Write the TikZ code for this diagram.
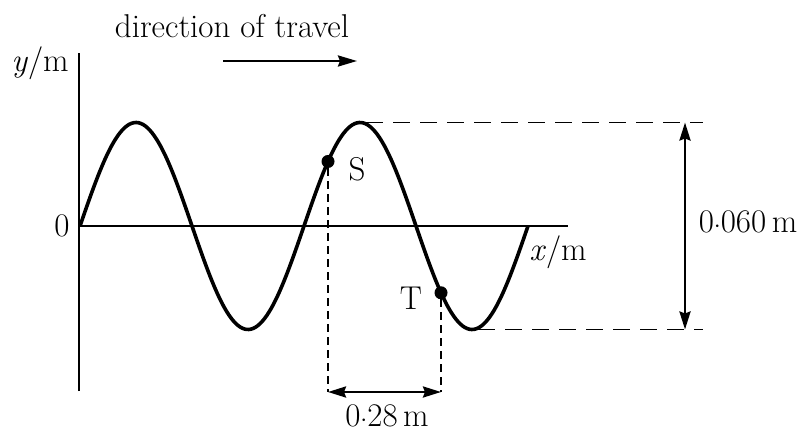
\documentclass[tikz,border=0pt]{standalone}
\usetikzlibrary{arrows.meta}
\tikzset{
  dot/.style={circle, fill=black, inner sep=0pt, minimum size=13pt},
  guide/.style={line width=1.6pt, dash pattern=on 8pt off 5pt},
  level/.style={line width=1.6pt, dash pattern=on 17pt off 10pt},
  measure/.style={line width=2.6pt, {Stealth[length=18pt,width=11pt,inset=2pt]}-{Stealth[length=18pt,width=11pt,inset=2pt]}},
}
\begin{document}
\begin{tikzpicture}[x=1pt, y=-1pt, font=\fontsize{33}{40}\selectfont]
\useasboundingbox (0,0) rectangle (805,433);
% axes
\coordinate (O) at (79,226);
\coordinate (ytop) at (79,53);
\coordinate (ybot) at (79,391);
\coordinate (xend) at (568,226);
\draw[line width=1.8pt] (ybot) -- (ytop);
\draw[line width=1.8pt] (O) -- (xend);
\node (ylabel) at (40,63) {\textit{y}/m};
\node (zero) at (62,226) {0};
\node (xlabel) at (558,252) {\textit{x}/m};

% wave
\draw[line width=3.6pt, line join=round] plot[domain=0:448, samples=200] ({80+\x}, {226-103.5*sin(\x/224*360)});

% direction of travel
\node (travel) at (232,26) {direction of travel};
\coordinate (dstart) at (223,61);
\coordinate (dend) at (357,61);
\draw[line width=2.6pt, -{Stealth[length=19pt,width=11pt,inset=2pt]}] (dstart) -- (dend);

% points S and T
\node[dot] (S) at (328,{226-103.5*sin(248/224*360)}) {};
\node[dot] (T) at (441,{226-103.5*sin(361/224*360)}) {};
\node (slabel) at (357,169) {S};
\node (tlabel) at (411,298) {T};
\coordinate (sb) at (328,392);
\coordinate (tb) at (441,392);
\draw[guide] (S) -- (sb);
\draw[guide] (T) -- (tb);
\draw[measure] (sb) -- (tb);
\node (dist) at (387,416) {0$\cdot$28\,m};

% amplitude
\coordinate (peak) at (366,122.5);
\coordinate (peakr) at (703,122.5);
\coordinate (trough) at (478,329.5);
\coordinate (troughr) at (703,329.5);
\draw[level] (peak) -- (peakr);
\draw[level] (trough) -- (troughr);
\coordinate (atop) at (685,122.5);
\coordinate (abot) at (685,329.5);
\draw[measure] (atop) -- (abot);
\node (height) at (748,222) {0$\cdot$060\,m};
\end{tikzpicture}
\end{document}
